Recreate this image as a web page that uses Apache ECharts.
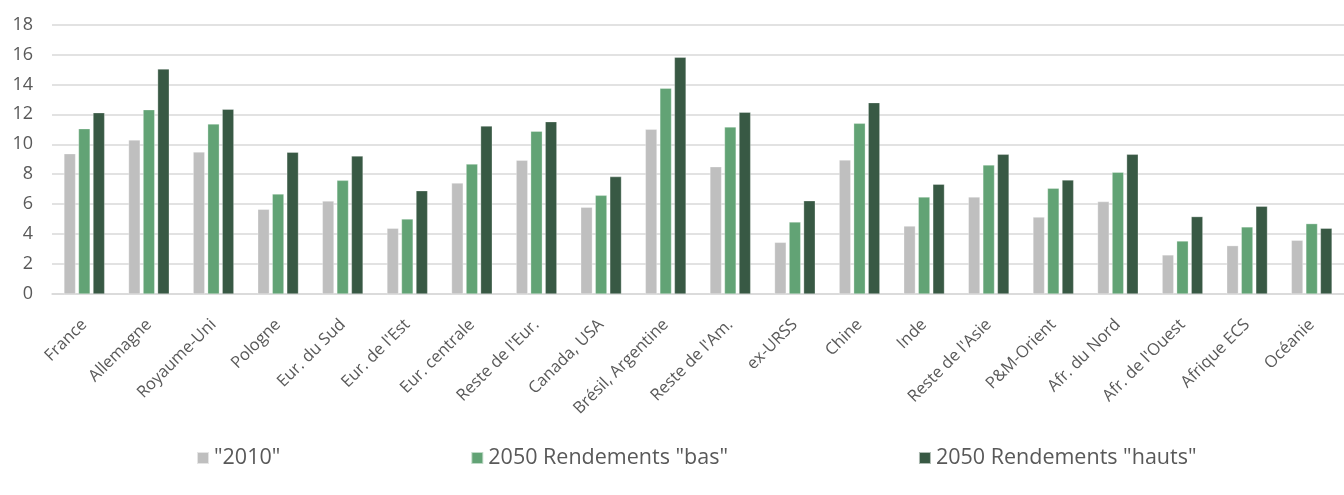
<!DOCTYPE html>
<html>
<head>
<meta charset="utf-8">
<script src="https://cdn.jsdelivr.net/npm/echarts@6/dist/echarts.min.js"></script>
<style>
html,body{margin:0;padding:0;background:#fff;}
#c{width:1344px;height:495px;}
</style>
</head>
<body>
<div id="c"></div>
<script>
const categories = ["France","Allemagne","Royaume-Uni","Pologne","Eur. du Sud","Eur. de l'Est","Eur. centrale","Reste de l'Eur.","Canada, USA","Brésil, Argentine","Reste de l'Am.","ex-URSS","Chine","Inde","Reste de l'Asie","P&M-Orient","Afr. du Nord","Afr. de l'Ouest","Afrique ECS","Océanie"];
const seriesNames = ['"2010"','2050 Rendements "bas"','2050 Rendements "hauts"'];
const v2010 = [9.37,10.29,9.49,5.66,6.21,4.39,7.41,8.93,5.79,11.0,8.50,3.45,8.95,4.54,6.48,5.14,6.17,2.61,3.23,3.59];
const vBas  = [11.04,12.31,11.36,6.68,7.59,5.01,8.68,10.87,6.59,13.74,11.16,4.81,11.40,6.48,8.62,7.06,8.13,3.54,4.48,4.70];
const vHauts= [12.11,15.03,12.34,9.47,9.22,6.90,11.22,11.51,7.84,15.81,12.14,6.23,12.78,7.33,9.33,7.62,9.33,5.17,5.86,4.39];
const yTicks = {min:0, max:18, interval:2};

const colors = ['#bfbfbf','#62a375','#385944'];
const chart = echarts.init(document.getElementById('c'), null, {renderer:'canvas'});
const font = '"Open Sans", sans-serif';
const mk = (name, data, color) => ({
  name, type:'bar', data, barWidth:'18%', barGap:'25%',
  itemStyle:{color, borderColor:'rgba(255,255,255,0.6)', borderWidth:0.5},
  animation:false
});
chart.setOption({
  animation:false,
  color: colors,
  grid:{left:52, right:-18, top:24.5, bottom:201},
  legend:{
    left:196, top:447, padding:0, itemWidth:12, itemHeight:12, itemGap:190,
    icon:'rect',
    textStyle:{fontFamily:font, fontSize:21.5, color:'#595959'},
    data: seriesNames
  },
  xAxis:{
    type:'category', data:categories,
    axisLine:{lineStyle:{color:'#d9d9d9', width:1.5}},
    axisTick:{show:false},
    axisLabel:{interval:0, rotate:45, fontFamily:font, fontSize:16.5, color:'#595959', margin:28}
  },
  yAxis:{
    type:'value', min:yTicks.min, max:yTicks.max, interval:yTicks.interval,
    axisLine:{show:false}, axisTick:{show:false},
    axisLabel:{fontFamily:font, fontSize:18, color:'#595959', margin:19},
    splitLine:{lineStyle:{color:'#d9d9d9', width:1.5}}
  },
  series:[
    mk(seriesNames[0], v2010, colors[0]),
    mk(seriesNames[1], vBas, colors[1]),
    mk(seriesNames[2], vHauts, colors[2])
  ]
});
</script>
</body>
</html>
